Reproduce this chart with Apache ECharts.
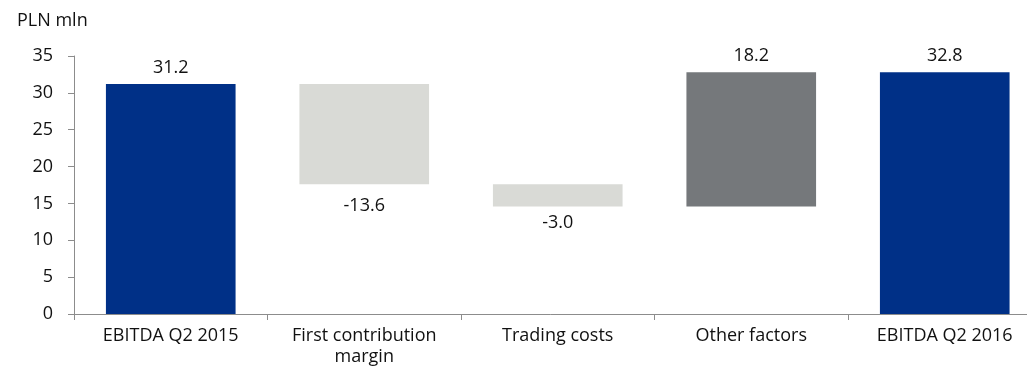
<!DOCTYPE html>
<html>
<head>
<meta charset="utf-8">
<script src="https://cdn.jsdelivr.net/npm/echarts@6/dist/echarts.min.js"></script>
<style>
  html, body { margin: 0; padding: 0; background: #fff; overflow: hidden; }
  #chart { width: 1027px; height: 369px; }
</style>
</head>
<body>
<div id="chart"></div>
<script>
// EBITDA bridge, PLN mln
const categories = ['EBITDA Q2 2015', 'First contribution\nmargin', 'Trading costs', 'Other factors', 'EBITDA Q2 2016'];
const changes = [31.2, -13.6, -3.0, 18.2, 32.8];
const kinds = ['total', 'delta', 'delta', 'delta', 'total'];
const yTicks = { min: 0, max: 35, step: 5 };

const COLORS = { total: '#003087', down: '#D9DAD6', up: '#75787B' };
const FONT = '"Open Sans", "Noto Sans", sans-serif';
const TEXT = '#111111';
const FS = 18;

// Running totals give the floating base and visible height of each bar
const base = [];
const visible = [];
let running = 0;
changes.forEach((v, i) => {
  if (kinds[i] === 'total') {
    base.push(0);
    visible.push(v);
    running = v;
  } else {
    const next = running + v;
    base.push(Math.min(running, next));
    visible.push(Math.abs(v));
    running = next;
  }
});

const barData = visible.map((h, i) => {
  const v = changes[i];
  const color = kinds[i] === 'total' ? COLORS.total : (v < 0 ? COLORS.down : COLORS.up);
  const below = kinds[i] === 'delta' && v < 0;
  return {
    value: h,
    itemStyle: { color },
    label: {
      show: true,
      position: below ? 'bottom' : 'top',
      distance: below ? (i === 1 ? 13 : 7) : 7,
      formatter: () => v.toFixed(1)
    }
  };
});

const chart = echarts.init(document.getElementById('chart'), null, { renderer: 'canvas' });
chart.setOption({
  animation: false,
  textStyle: { fontFamily: FONT },
  grid: {
    left: 74, top: 56, bottom: 55, width: 967.5,
    containLabel: false, outerBoundsMode: 'none'
  },
  graphic: [{
    type: 'text', left: 17, top: 12,
    style: { text: 'PLN mln', font: FS + 'px ' + FONT, fill: TEXT }
  }],
  xAxis: {
    type: 'category',
    data: categories,
    axisLine: { lineStyle: { color: '#8c8c8c', width: 1 } },
    axisTick: { show: true, length: 6, lineStyle: { color: '#8c8c8c' } },
    axisLabel: {
      color: TEXT, fontSize: FS, fontFamily: FONT, margin: 11, lineHeight: 21,
      interval: 0, hideOverlap: false,
      // each line centred under its tick
      formatter: (name) => name.split('\n').map((line) => '{c|' + line + '}').join('\n'),
      rich: {
        c: { align: 'center', color: TEXT, fontSize: FS, fontFamily: FONT, lineHeight: 21 }
      }
    }
  },
  yAxis: {
    type: 'value',
    min: yTicks.min, max: yTicks.max, interval: yTicks.step,
    splitLine: { show: false },
    axisLine: { show: true, lineStyle: { color: '#8c8c8c', width: 1 } },
    axisTick: { show: true, length: 6, lineStyle: { color: '#8c8c8c' } },
    axisLabel: { color: TEXT, fontSize: FS, fontFamily: FONT, margin: 21 }
  },
  series: [
    {
      type: 'bar', stack: 'bridge', silent: true,
      data: base,
      itemStyle: { color: 'transparent' },
      barCategoryGap: '33%'
    },
    {
      type: 'bar', stack: 'bridge',
      data: barData,
      barCategoryGap: '33%',
      label: { color: TEXT, fontSize: FS, fontFamily: FONT }
    }
  ]
});
</script>
</body>
</html>
